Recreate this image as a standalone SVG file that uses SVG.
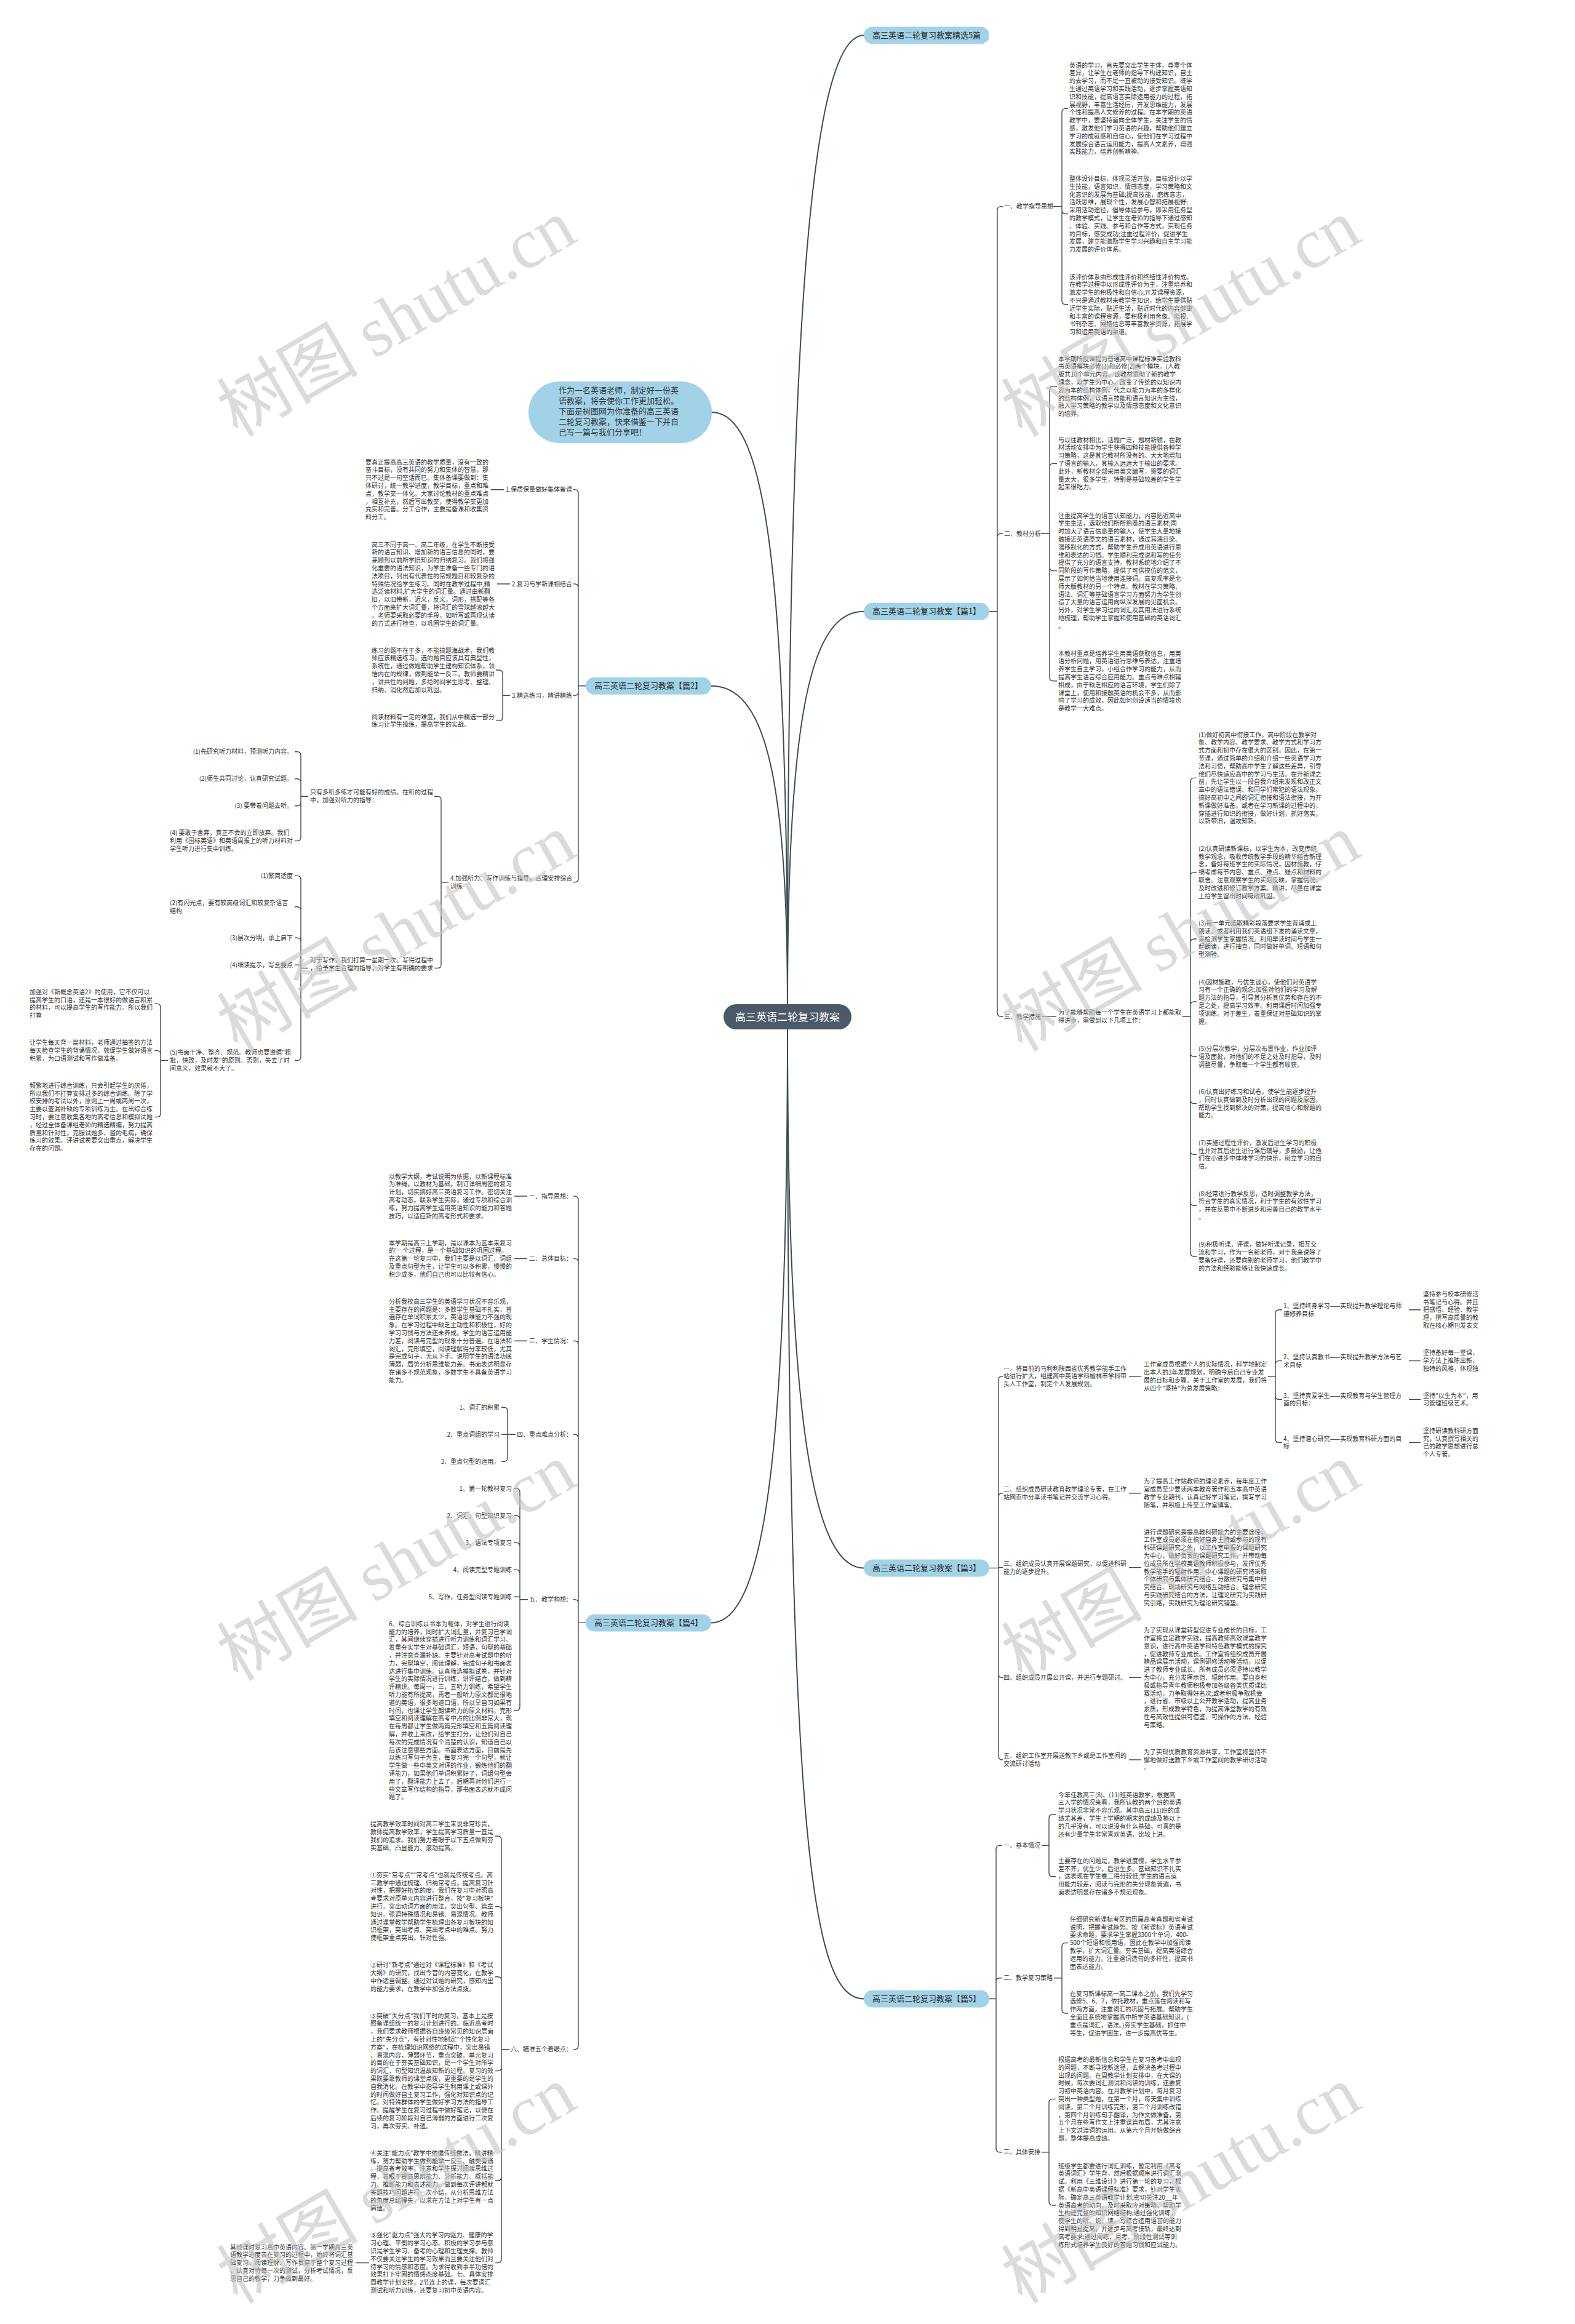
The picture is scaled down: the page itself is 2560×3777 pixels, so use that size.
<svg xmlns="http://www.w3.org/2000/svg" width="2560" height="3777" viewBox="0 0 2560 3777">
<style>
.t{font-family:"Noto Sans CJK SC","Liberation Sans",sans-serif;font-size:10px;fill:#333}
.e{text-anchor:end}
.c{fill:none;stroke:#3f4c57;stroke-width:1.4}
.tr{fill:none;stroke:#3f4c57;stroke-width:2}
.n1{fill:#a2d2e7}
.n1t{font-family:"Noto Sans CJK SC","Liberation Sans",sans-serif;font-size:13px;fill:#2b2b2b;text-anchor:middle}
.wm{font-family:"Noto Sans CJK SC","Liberation Serif",serif;font-size:115px;fill:#c4c4c4;opacity:.6;text-anchor:middle}
.wms{font-family:"Liberation Serif",serif}
</style>
<rect width="2560" height="3777" fill="#fff"/>
<g id="connectors">
<path class="tr" d="M1280 1632 C1280 500 1320 57.4 1404 57.4"/>
<path class="tr" d="M1280 1632 C1280 900 1240 670 1157 670"/>
<path class="tr" d="M1280 1632 C1280 1150 1320 993.8 1404 993.8"/>
<path class="tr" d="M1280 1632 C1280 1250 1240 1114.8 1156 1114.8"/>
<path class="tr" d="M1280 1673 C1280 2300 1320 2548.4 1404 2548.4"/>
<path class="tr" d="M1280 1673 C1280 2380 1240 2637.4 1156 2637.4"/>
<path class="tr" d="M1280 1673 C1280 3000 1320 3248.5 1404 3248.5"/>
<path class="c" d="M1608 993.8 H1621 M1621 993.8 V341.6 Q1621 335.6 1627 335.6 H1630 M1621 993.8 V873.3 Q1621 867.3 1627 867.3 H1630 M1621 993.8 V1646 Q1621 1652 1627 1652 H1630"/>
<path class="c" d="M1712 335.6 H1726 M1726 335.6 V182.4 Q1726 176.4 1732 176.4 H1736 M1726 335.6 V341.6 Q1726 347.6 1732 347.6 H1736 M1726 335.6 V488.8 Q1726 494.8 1732 494.8 H1736"/>
<path class="c" d="M1692 867.3 H1706 M1706 867.3 V633.8 Q1706 627.8 1712 627.8 H1718 M1706 867.3 V759.4 Q1706 753.4 1712 753.4 H1718 M1706 867.3 V921.6 Q1706 927.6 1712 927.6 H1718 M1706 867.3 V1100.8 Q1706 1106.8 1712 1106.8 H1718"/>
<path class="c" d="M1694 1652 H1717"/>
<path class="c" d="M1922 1652 H1935 M1935 1652 V1270.4 Q1935 1264.4 1941 1264.4 H1945 M1935 1652 V1423.6 Q1935 1417.6 1941 1417.6 H1945 M1935 1652 V1532 Q1935 1526 1941 1526 H1945 M1935 1652 V1634 Q1935 1628 1941 1628 H1945 M1935 1652 V1711.2 Q1935 1717.2 1941 1717.2 H1945 M1935 1652 V1787.6 Q1935 1793.6 1941 1793.6 H1945 M1935 1652 V1870.4 Q1935 1876.4 1941 1876.4 H1945 M1935 1652 V1953.2 Q1935 1959.2 1941 1959.2 H1945 M1935 1652 V2036 Q1935 2042 1941 2042 H1945"/>
<path class="c" d="M1608 2548.4 H1623 M1623 2548.4 V2242.8 Q1623 2236.8 1629 2236.8 H1630 M1623 2548.4 V2432.8 Q1623 2426.8 1629 2426.8 H1630 M1623 2547.6 H1630 M1623 2548.4 V2720.4 Q1623 2726.4 1629 2726.4 H1630 M1623 2548.4 V2854 Q1623 2860 1629 2860 H1630"/>
<path class="c" d="M1835 2236.8 H1855 M1835 2426.8 H1855 M1835 2547.6 H1855 M1835 2726.4 H1855 M1835 2860 H1855"/>
<path class="c" d="M2061 2236.8 H2073 M2073 2236.8 V2134.8 Q2073 2128.8 2079 2128.8 H2084 M2073 2236.8 V2217.6 Q2073 2211.6 2079 2211.6 H2084 M2073 2236.8 V2268.4 Q2073 2274.4 2079 2274.4 H2084 M2073 2236.8 V2338.4 Q2073 2344.4 2079 2344.4 H2084"/>
<path class="c" d="M2290 2128.8 H2309 M2290 2211.6 H2309 M2290 2274.4 H2309 M2290 2344.4 H2309"/>
<path class="c" d="M1608 3248.5 H1619 M1619 3248.5 V3005.4 Q1619 2999.4 1625 2999.4 H1629 M1619 3248.5 V3220.8 Q1619 3214.8 1625 3214.8 H1629 M1619 3248.5 V3491.7 Q1619 3497.7 1625 3497.7 H1629"/>
<path class="c" d="M1693 2999.4 H1705 M1705 2999.4 V2955 Q1705 2949 1711 2949 H1716 M1705 2999.4 V3043.8 Q1705 3049.8 1711 3049.8 H1716"/>
<path class="c" d="M1713 3214.8 H1726 M1726 3214.8 V3163.6 Q1726 3157.6 1732 3157.6 H1736 M1726 3214.8 V3266 Q1726 3272 1732 3272 H1736"/>
<path class="c" d="M1693 3497.7 H1705 M1705 3497.7 V3417.4 Q1705 3411.4 1711 3411.4 H1716 M1705 3497.7 V3578 Q1705 3584 1711 3584 H1716"/>
<path class="c" d="M952 1114.8 H940 M940 1114.8 V801.8 Q940 795.8 934 795.8 H932 M940 1114.8 V955 Q940 949 934 949 H932 M940 1114.8 V1124.2 Q940 1130.2 934 1130.2 H932 M940 1114.8 V1427.8 Q940 1433.8 934 1433.8 H932"/>
<path class="c" d="M819 795.8 H798 M829 949 H808"/>
<path class="c" d="M829 1130.2 H817 M817 1130.2 V1095 Q817 1089 811 1089 H806 M817 1130.2 V1165.4 Q817 1171.4 811 1171.4 H806"/>
<path class="c" d="M729 1433.8 H717 M717 1433.8 V1300.2 Q717 1294.2 711 1294.2 H706 M717 1433.8 V1567.4 Q717 1573.4 711 1573.4 H706"/>
<path class="c" d="M501 1294.2 H489 M489 1294.2 V1227.8 Q489 1221.8 483 1221.8 H479 M489 1294.2 V1271.8 Q489 1265.8 483 1265.8 H479 M489 1294.2 V1303.8 Q489 1309.8 483 1309.8 H479 M489 1294.2 V1360.6 Q489 1366.6 483 1366.6 H479"/>
<path class="c" d="M501 1573.4 H489 M489 1573.4 V1429.4 Q489 1423.4 483 1423.4 H479 M489 1573.4 V1479.8 Q489 1473.8 483 1473.8 H479 M489 1573.4 V1530.2 Q489 1524.2 483 1524.2 H479 M489 1573.4 V1568.2 H479 M489 1573.4 V1717.4 Q489 1723.4 483 1723.4 H479"/>
<path class="c" d="M273 1723.4 H261 M261 1723.4 V1637.4 Q261 1631.4 255 1631.4 H251 M261 1723.4 V1713.4 Q261 1707.4 255 1707.4 H251 M261 1723.4 V1809.4 Q261 1815.4 255 1815.4 H251"/>
<path class="c" d="M952 2637.4 H940 M940 2637.4 V1950 Q940 1944 934 1944 H932 M940 2637.4 V2051.6 Q940 2045.6 934 2045.6 H932 M940 2637.4 V2185.2 Q940 2179.2 934 2179.2 H932 M940 2637.4 V2337.2 Q940 2331.2 934 2331.2 H932 M940 2637.4 V2605.6 Q940 2599.6 934 2599.6 H932 M940 2637.4 V3324.8 Q940 3330.8 934 3330.8 H932"/>
<path class="c" d="M857 1944 H836 M857 2045.6 H836 M857 2179.2 H836"/>
<path class="c" d="M838 2331.2 H825 M825 2331.2 V2293.2 Q825 2287.2 819 2287.2 H815 M825 2331.2 H815 M825 2331.2 V2369.2 Q825 2375.2 819 2375.2 H815"/>
<path class="c" d="M858 2599.6 H845 M845 2599.6 V2425.2 Q845 2419.2 839 2419.2 H835 M845 2599.6 V2469.2 Q845 2463.2 839 2463.2 H835 M845 2599.6 V2513.2 Q845 2507.2 839 2507.2 H835 M845 2599.6 V2557.2 Q845 2551.2 839 2551.2 H835 M845 2599.6 V2595.2 H835 M845 2599.6 V2774 Q845 2780 839 2780 H835"/>
<path class="c" d="M828 3330.8 H815 M815 3330.8 V2990 Q815 2984 809 2984 H805 M815 3330.8 V3104.4 Q815 3098.4 809 3098.4 H805 M815 3330.8 V3218.8 Q815 3212.8 809 3212.8 H805 M815 3330.8 V3359.6 Q815 3365.6 809 3365.6 H805 M815 3330.8 V3538 Q815 3544 809 3544 H805 M815 3330.8 V3671.6 Q815 3677.6 809 3677.6 H805"/>
<path class="c" d="M600 3677.6 H578"/>
</g>

<g id="main"><rect x="1176" y="1632" width="208" height="41" rx="20.5" fill="#4a5a67"/><text x="1280" y="1658.5" text-anchor="middle" font-family="Noto Sans CJK SC, Liberation Sans, sans-serif" font-size="17" fill="#fff">高三英语二轮复习教案</text></g>

<g id="intro"><rect x="859" y="620" width="298" height="100" rx="50" class="n1"/>
<text font-family="Noto Sans CJK SC, Liberation Sans, sans-serif" font-size="13" fill="#333" x="908" y="638.5"><tspan x="908" dy="0">作为一名英语老师，制定好一份英</tspan><tspan x="908" dy="17.2">语教案，将会使你工作更加轻松。</tspan><tspan x="908" dy="17.2">下面是树图网为你准备的高三英语</tspan><tspan x="908" dy="17.2">二轮复习教案，快来借鉴一下并自</tspan><tspan x="908" dy="17.2">己写一篇与我们分享吧！</tspan></text></g>

<g id="top5"><rect x="1404" y="43.4" width="204" height="28" rx="14" class="n1"/><text class="n1t" x="1506" y="61.9">高三英语二轮复习教案精选5篇</text></g>

<g id="p1"><rect x="1404" y="979.8" width="204" height="28" rx="14" class="n1"/><text class="n1t" x="1506" y="998.3">高三英语二轮复习教案【篇1】</text></g>
<g id="p1-l1"><text class="t" x="1632" y="339.1">一、教学指导思想</text></g>
<g id="p1-l2"><text class="t" x="1632" y="870.8">二、教材分析</text></g>
<g id="p1-l3"><text class="t" x="1632" y="1655.5">三、教学措施</text></g>
<g id="p1-1a"><text class="t" x="1738" y="109.5"><tspan x="1738" dy="0">英语的学习，首先要突出学生主体，尊重个体</tspan><tspan x="1738" dy="12.8">差异，让学生在老师的指导下构建知识，自主</tspan><tspan x="1738" dy="12.8">的去学习，而不是一直被动的接受知识。既学</tspan><tspan x="1738" dy="12.8">生通过英语学习和实践活动，逐步掌握英语知</tspan><tspan x="1738" dy="12.8">识和技能，提高语言实际运用能力的过程，拓</tspan><tspan x="1738" dy="12.8">展视野，丰富生活经历，开发思维能力，发展</tspan><tspan x="1738" dy="12.8">个性和提高人文修养的过程。在本学期的英语</tspan><tspan x="1738" dy="12.8">教学中，要坚持面向全体学生，关注学生的情</tspan><tspan x="1738" dy="12.8">感，激发他们学习英语的兴趣，帮助他们建立</tspan><tspan x="1738" dy="12.8">学习的成就感和自信心，使他们在学习过程中</tspan><tspan x="1738" dy="12.8">发展综合语言运用能力，提高人文素养，增强</tspan><tspan x="1738" dy="12.8">实践能力，培养创新精神。</tspan></text></g>
<g id="p1-1b"><text class="t" x="1738" y="293.9"><tspan x="1738" dy="0">整体设计目标，体现灵活开放，目标设计以学</tspan><tspan x="1738" dy="12.8">生技能，语言知识，情感态度，学习策略和文</tspan><tspan x="1738" dy="12.8">化意识的发展为基础;提高技能，磨练意志，</tspan><tspan x="1738" dy="12.8">活跃思维，展现个性，发展心智和拓展视野;</tspan><tspan x="1738" dy="12.8">采用活动途径，倡导体验参与，即采用任务型</tspan><tspan x="1738" dy="12.8">的教学模式，让学生在老师的指导下通过感知</tspan><tspan x="1738" dy="12.8">、体验、实践、参与和合作等方式，实现任务</tspan><tspan x="1738" dy="12.8">的目标，感受成功;注重过程评价，促进学生</tspan><tspan x="1738" dy="12.8">发展，建立能激励学生学习兴趣和自主学习能</tspan><tspan x="1738" dy="12.8">力发展的评价体系。</tspan></text></g>
<g id="p1-1c"><text class="t" x="1738" y="453.5"><tspan x="1738" dy="0">该评价体系由形成性评价和终结性评价构成。</tspan><tspan x="1738" dy="12.8">在教学过程中以形成性评价为主，注重培养和</tspan><tspan x="1738" dy="12.8">激发学生的积极性和自信心;开发课程资源，</tspan><tspan x="1738" dy="12.8">不只是通过教材来教学生知识，给学生提供贴</tspan><tspan x="1738" dy="12.8">近学生实际，贴近生活，贴近时代的内容健康</tspan><tspan x="1738" dy="12.8">和丰富的课程资源，要积极利用音像、电视、</tspan><tspan x="1738" dy="12.8">书刊杂志、网络信息等丰富教学资源，拓展学</tspan><tspan x="1738" dy="12.8">习和运用英语的渠道。</tspan></text></g>
<g id="p1-2a"><text class="t" x="1720" y="586.5"><tspan x="1720" dy="0">本学期所授课程为普通高中课程标准实验教科</tspan><tspan x="1720" dy="12.8">书英语模块必修(1)和必修(2)两个模块。(人教</tspan><tspan x="1720" dy="12.8">版共10个单元内容。该教材贯彻了新的教学</tspan><tspan x="1720" dy="12.8">理念，以学生为中心，改变了传统的以知识内</tspan><tspan x="1720" dy="12.8">容为本的结构体例，代之以能力为本的多样化</tspan><tspan x="1720" dy="12.8">的结构体例，以语言技能和语言知识为主线，</tspan><tspan x="1720" dy="12.8">融入学习策略的教学以及情感态度和文化意识</tspan><tspan x="1720" dy="12.8">的培养。</tspan></text></g>
<g id="p1-2b"><text class="t" x="1720" y="718.5"><tspan x="1720" dy="0">与以往教材相比，话题广泛，题材新颖，在教</tspan><tspan x="1720" dy="12.8">材活动安排中为学生获得四种技能提供各种学</tspan><tspan x="1720" dy="12.8">习策略，这是其它教材所没有的。大大地增加</tspan><tspan x="1720" dy="12.8">了语言的输入，其输入远远大于输出的要求。</tspan><tspan x="1720" dy="12.8">此外，新教材全部采用英文编写，需要的词汇</tspan><tspan x="1720" dy="12.8">量太大，很多学生，特别是基础较差的学生学</tspan><tspan x="1720" dy="12.8">起来很吃力。</tspan></text></g>
<g id="p1-2c"><text class="t" x="1720" y="841.5"><tspan x="1720" dy="0">注重提高学生的语言认知能力，内容贴近高中</tspan><tspan x="1720" dy="12.8">学生生活，选取他们所所熟悉的语言素材;同</tspan><tspan x="1720" dy="12.8">时加大了语言信息量的输入，使学生大量地接</tspan><tspan x="1720" dy="12.8">触接近英语原文的语言素材，通过耳濡目染、</tspan><tspan x="1720" dy="12.8">潜移默化的方式，帮助学生养成用英语进行思</tspan><tspan x="1720" dy="12.8">维和表达的习惯。学生顺利完成说和写的任务</tspan><tspan x="1720" dy="12.8">提供了充分的语言支持。教材系统地介绍了不</tspan><tspan x="1720" dy="12.8">同阶段的写作策略，提供了可供模仿的范文，</tspan><tspan x="1720" dy="12.8">展示了如何恰当地使用连接词。高复现率是北</tspan><tspan x="1720" dy="12.8">师大版教材的另一个特点。教材在学习策略、</tspan><tspan x="1720" dy="12.8">语法、词汇等基础语言学习方面努力为学生创</tspan><tspan x="1720" dy="12.8">造了大量的语言运用向纵深发展的见面机会。</tspan><tspan x="1720" dy="12.8">另外，对学生学习过的词汇及其用法进行系统</tspan><tspan x="1720" dy="12.8">地梳理，帮助学生掌握和使用基础的英语词汇</tspan><tspan x="1720" dy="12.8">。</tspan></text></g>
<g id="p1-2d"><text class="t" x="1720" y="1065.5"><tspan x="1720" dy="0">本教材重点是培养学生用英语获取信息，用英</tspan><tspan x="1720" dy="12.8">语分析问题，用英语进行思维与表达，注重培</tspan><tspan x="1720" dy="12.8">养学生自主学习，小组合作学习的能力，从而</tspan><tspan x="1720" dy="12.8">提高学生语言综合应用能力。重点与难点相辅</tspan><tspan x="1720" dy="12.8">相成，由于缺乏相应的语言环境，学生们除了</tspan><tspan x="1720" dy="12.8">课堂上，使用和接触英语的机会不多，从而影</tspan><tspan x="1720" dy="12.8">响了学习的成效，因此如何创设适当的情境也</tspan><tspan x="1720" dy="12.8">是教学一大难点。</tspan></text></g>
<g id="p1-3"><text class="t" x="1720" y="1649.1"><tspan x="1720" dy="0">为了能够帮助每一个学生在英语学习上都能取</tspan><tspan x="1720" dy="12.8">得进步，需做到以下几项工作：</tspan></text></g>
<g id="p1-3-1"><text class="t" x="1948" y="1197.5"><tspan x="1948" dy="0">(1)做好初高中衔接工作。高中阶段在教学对</tspan><tspan x="1948" dy="12.8">象、教学内容、教学要求、教学方式和学习方</tspan><tspan x="1948" dy="12.8">式方面和初中存在很大的区别。因此，在第一</tspan><tspan x="1948" dy="12.8">节课，通过简单的介绍和介绍一些英语学习方</tspan><tspan x="1948" dy="12.8">法和习惯，帮助高中学生了解这些差异，引导</tspan><tspan x="1948" dy="12.8">他们尽快适应高中的学习与生活。在开新课之</tspan><tspan x="1948" dy="12.8">前，先让学生以一段自我介绍来发现和改正文</tspan><tspan x="1948" dy="12.8">章中的语法错误、和同学们常犯的语法现象。</tspan><tspan x="1948" dy="12.8">搞好高初中之间的词汇衔接和语法衔接，为开</tspan><tspan x="1948" dy="12.8">新课做好准备。或者在学习新课的过程中的，</tspan><tspan x="1948" dy="12.8">穿插进行知识的衔接，做好计划，抓好落实，</tspan><tspan x="1948" dy="12.8">以新带旧，温故知新。</tspan></text></g>
<g id="p1-3-2"><text class="t" x="1948" y="1382.7"><tspan x="1948" dy="0">(2)认真研读新课标，以学生为本，改变传统</tspan><tspan x="1948" dy="12.8">教学观念，吸收传统教学手段的精华结合新理</tspan><tspan x="1948" dy="12.8">念，备好每班学生的实际情况，因材施教，仔</tspan><tspan x="1948" dy="12.8">细考虑每节内容、重点、难点、疑点和材料的</tspan><tspan x="1948" dy="12.8">取舍。注意观察学生的实际反映，掌握情况，</tspan><tspan x="1948" dy="12.8">及时改进和修订教学方案。精讲，尽量在课堂</tspan><tspan x="1948" dy="12.8">上给学生留出时间吸收巩固。</tspan></text></g>
<g id="p1-3-3"><text class="t" x="1948" y="1503.9"><tspan x="1948" dy="0">(3)每一单元选取精彩段落要求学生背诵或上</tspan><tspan x="1948" dy="12.8">朗读。或者利用我们英语组下发的诵读文章，</tspan><tspan x="1948" dy="12.8">来检测学生掌握情况。利用早读时间与学生一</tspan><tspan x="1948" dy="12.8">起朗读，进行抽查，同时做好单词、短语和句</tspan><tspan x="1948" dy="12.8">型测验。</tspan></text></g>
<g id="p1-3-4"><text class="t" x="1948" y="1599.5"><tspan x="1948" dy="0">(4)因材施教，与优生谈心，使他们对英语学</tspan><tspan x="1948" dy="12.8">习有一个正确的观念;加强对他们的学习及解</tspan><tspan x="1948" dy="12.8">题方法的指导，引导其分析其优势和存在的不</tspan><tspan x="1948" dy="12.8">足之处，提高学习效率。利用课后时间加强专</tspan><tspan x="1948" dy="12.8">项训练。对于差生，着重保证对基础知识的掌</tspan><tspan x="1948" dy="12.8">握。</tspan></text></g>
<g id="p1-3-5"><text class="t" x="1948" y="1707.9"><tspan x="1948" dy="0">(5)分层次教学，分层次布置作业，作业加评</tspan><tspan x="1948" dy="12.8">语及面批，对他们的不足之处及时指导，及时</tspan><tspan x="1948" dy="12.8">调整尽量，争取每一个学生都有收获。</tspan></text></g>
<g id="p1-3-6"><text class="t" x="1948" y="1777.9"><tspan x="1948" dy="0">(6)认真出好练习和试卷，使学生能逐步提升</tspan><tspan x="1948" dy="12.8">，同时认真做到及时分析出现的问题及原因，</tspan><tspan x="1948" dy="12.8">帮助学生找到解决的对策，提高信心和解题的</tspan><tspan x="1948" dy="12.8">能力。</tspan></text></g>
<g id="p1-3-7"><text class="t" x="1948" y="1860.7"><tspan x="1948" dy="0">(7)实施过程性评价，激发后进生学习的积极</tspan><tspan x="1948" dy="12.8">性并对其后进生进行课后辅导，多鼓励，让他</tspan><tspan x="1948" dy="12.8">们在小进步中体味学习的快乐，树立学习的自</tspan><tspan x="1948" dy="12.8">信。</tspan></text></g>
<g id="p1-3-8"><text class="t" x="1948" y="1943.5"><tspan x="1948" dy="0">(8)经常进行教学反思，适时调整教学方法，</tspan><tspan x="1948" dy="12.8">符合学生的真实情况，利于学生的有效性学习</tspan><tspan x="1948" dy="12.8">，并在反思中不断进步和完善自己的教学水平</tspan><tspan x="1948" dy="12.8">。</tspan></text></g>
<g id="p1-3-9"><text class="t" x="1948" y="2026.3"><tspan x="1948" dy="0">(9)积极听课，评课，做好听课记录，相互交</tspan><tspan x="1948" dy="12.8">流和学习，作为一名新老师，对于我来说除了</tspan><tspan x="1948" dy="12.8">要备好课，还要向别的老师学习，他们教学中</tspan><tspan x="1948" dy="12.8">的方法和经验能够让我快速成长。</tspan></text></g>

<g id="p3"><rect x="1404" y="2534.4" width="204" height="28" rx="14" class="n1"/><text class="n1t" x="1506" y="2552.9">高三英语二轮复习教案【篇3】</text></g>
<g id="p3-l1"><text class="t" x="1631" y="2227.5"><tspan x="1631" dy="0">一、将目前的马利利陕西省优秀教学能手工作</tspan><tspan x="1631" dy="12.8">站进行扩大，组建高中英语学科榆林市学科带</tspan><tspan x="1631" dy="12.8">头人工作室，制定个人发展规划。</tspan></text></g>
<g id="p3-l2"><text class="t" x="1631" y="2423.9"><tspan x="1631" dy="0">二、组织成员研读教育教学理论专著，在工作</tspan><tspan x="1631" dy="12.8">站网页中分享读书笔记并交流学习心得。</tspan></text></g>
<g id="p3-l3"><text class="t" x="1631" y="2544.7"><tspan x="1631" dy="0">三、组织成员认真开展课题研究，以促进科研</tspan><tspan x="1631" dy="12.8">能力的逐步提升。</tspan></text></g>
<g id="p3-l4"><text class="t" x="1631" y="2729.9">四、组织成员开展公开课，并进行专题研讨。</text></g>
<g id="p3-l5"><text class="t" x="1631" y="2857.1"><tspan x="1631" dy="0">五、组织工作室开展送教下乡或是工作室间的</tspan><tspan x="1631" dy="12.8">交流研讨活动</tspan></text></g>
<g id="p3-1"><text class="t" x="1859" y="2221.1"><tspan x="1859" dy="0">工作室成员根据个人的实际情况，科学地制定</tspan><tspan x="1859" dy="12.8">出本人的3年发展规划，明确今后自己专业发</tspan><tspan x="1859" dy="12.8">展的目标和步骤。关于工作室的发展，我们将</tspan><tspan x="1859" dy="12.8">从四个"坚持"为总发展策略：</tspan></text></g>
<g id="p3-2"><text class="t" x="1859" y="2411.1"><tspan x="1859" dy="0">为了提高工作站教师的理论素养，每年度工作</tspan><tspan x="1859" dy="12.8">室成员至少要读两本教育著作和五本高中英语</tspan><tspan x="1859" dy="12.8">教学专业期刊，认真记好学习笔记，撰写学习</tspan><tspan x="1859" dy="12.8">随笔，并积极上传至工作室博客。</tspan></text></g>
<g id="p3-3"><text class="t" x="1859" y="2493.5"><tspan x="1859" dy="0">进行课题研究是提高教科研能力的主要途径，</tspan><tspan x="1859" dy="12.8">工作室成员必须在搞好自身主持或参与的现有</tspan><tspan x="1859" dy="12.8">科研课题研究之外，以工作室申报的课题研究</tspan><tspan x="1859" dy="12.8">为中心，做好负责的课题研究工作，并带动每</tspan><tspan x="1859" dy="12.8">位成员所在学校英语教师积极参与，发挥优秀</tspan><tspan x="1859" dy="12.8">教学能手的辐射作用。中心课题的研究将采取</tspan><tspan x="1859" dy="12.8">个体研究与集体研究结合、分散研究与集中研</tspan><tspan x="1859" dy="12.8">究结合、现场研究与网络互动结合、理念研究</tspan><tspan x="1859" dy="12.8">与实践研究结合的方法，让理论研究为实践研</tspan><tspan x="1859" dy="12.8">究引路，实践研究为理论研究铺垫。</tspan></text></g>
<g id="p3-4"><text class="t" x="1859" y="2653.1"><tspan x="1859" dy="0">为了实现从课堂转型促进专业成长的目标，工</tspan><tspan x="1859" dy="12.8">作室将立足教学实践，提高教师高效课堂教学</tspan><tspan x="1859" dy="12.8">意识，进行高中英语学科特色教学模式的探究</tspan><tspan x="1859" dy="12.8">，促进教师专业成长。工作室将组织成员开展</tspan><tspan x="1859" dy="12.8">精品课展示活动，课例研修活动等活动，以促</tspan><tspan x="1859" dy="12.8">进了教师专业成长。所有成员必须坚持以教学</tspan><tspan x="1859" dy="12.8">为中心，充分发挥示范、辐射作用。要自身积</tspan><tspan x="1859" dy="12.8">极或指导青年教师积极参加各级各类优质课比</tspan><tspan x="1859" dy="12.8">赛活动，力争取得好名次;或者积极争取机会</tspan><tspan x="1859" dy="12.8">，进行省、市级以上公开教学活动，提高业务</tspan><tspan x="1859" dy="12.8">素质，形成教学特色，为提高课堂教学的有效</tspan><tspan x="1859" dy="12.8">性与高效性提供可借鉴、可操作的方法、经验</tspan><tspan x="1859" dy="12.8">与策略。</tspan></text></g>
<g id="p3-5"><text class="t" x="1859" y="2850.7"><tspan x="1859" dy="0">为了实现优质教育资源共享，工作室将坚持不</tspan><tspan x="1859" dy="12.8">懈地做好送教下乡或工作室间的教学研讨活动</tspan><tspan x="1859" dy="12.8">。</tspan></text></g>
<g id="p3-1-l1"><text class="t" x="2086" y="2125.9"><tspan x="2086" dy="0">1、坚持终身学习——实现提升教学理论与师</tspan><tspan x="2086" dy="12.8">德修养目标</tspan></text></g>
<g id="p3-1-l2"><text class="t" x="2086" y="2208.7"><tspan x="2086" dy="0">2、坚持认真教书——实现提升教学方法与艺</tspan><tspan x="2086" dy="12.8">术目标</tspan></text></g>
<g id="p3-1-l3"><text class="t" x="2086" y="2271.5"><tspan x="2086" dy="0">3、坚持真爱学生——实现教育与学生管理方</tspan><tspan x="2086" dy="12.8">面的目标：</tspan></text></g>
<g id="p3-1-l4"><text class="t" x="2086" y="2341.5"><tspan x="2086" dy="0">4、坚持潜心研究——实现教育科研方面的目</tspan><tspan x="2086" dy="12.8">标</tspan></text></g>
<g id="p3-1-1"><text class="t" x="2313" y="2106.7"><tspan x="2313" dy="0">坚持参与校本研修活</tspan><tspan x="2313" dy="12.8">书笔记与心得。并且</tspan><tspan x="2313" dy="12.8">把感悟、经验、教学</tspan><tspan x="2313" dy="12.8">理，撰写高质量的教</tspan><tspan x="2313" dy="12.8">取在核心期刊发表文</tspan></text></g>
<g id="p3-1-2"><text class="t" x="2313" y="2202.3"><tspan x="2313" dy="0">坚持备好每一堂课，</tspan><tspan x="2313" dy="12.8">学方法上推陈出新，</tspan><tspan x="2313" dy="12.8">独特的风格，体现独</tspan></text></g>
<g id="p3-1-3"><text class="t" x="2313" y="2271.5"><tspan x="2313" dy="0">坚持"以生为本"，用</tspan><tspan x="2313" dy="12.8">习管理班级艺术。</tspan></text></g>
<g id="p3-1-4"><text class="t" x="2313" y="2328.7"><tspan x="2313" dy="0">坚持研读教科研方面</tspan><tspan x="2313" dy="12.8">究，认真撰写相关的</tspan><tspan x="2313" dy="12.8">己的教学思想进行总</tspan><tspan x="2313" dy="12.8">个人专著。</tspan></text></g>

<g id="p5"><rect x="1404" y="3234.5" width="204" height="28" rx="14" class="n1"/><text class="n1t" x="1506" y="3253">高三英语二轮复习教案【篇5】</text></g>
<g id="p5-l1"><text class="t" x="1631" y="3002.9">一、基本情况</text></g>
<g id="p5-l2"><text class="t" x="1631" y="3218.3">二、教学复习策略</text></g>
<g id="p5-l3"><text class="t" x="1631" y="3501.2">三、具体安排</text></g>
<g id="p5-a"><text class="t" x="1720" y="2920.5"><tspan x="1720" dy="0">今年任教高三(8)、(11)班英语教学，根据高</tspan><tspan x="1720" dy="12.8">三入学的情况来看，我所认教的两个班的英语</tspan><tspan x="1720" dy="12.8">学习状况非常不容乐观。其中高三(11)班的成</tspan><tspan x="1720" dy="12.8">绩尤其差，学生上学期的期末的成绩及格以上</tspan><tspan x="1720" dy="12.8">的几乎没有，可以说没有什么基础，可喜的是</tspan><tspan x="1720" dy="12.8">还有少量学生非常喜欢英语，比较上进。</tspan></text></g>
<g id="p5-b"><text class="t" x="1720" y="3027.7"><tspan x="1720" dy="0">主要存在的问题是，教学进度慢，学生水平参</tspan><tspan x="1720" dy="12.8">差不齐，优生少，后进生多。基础知识不扎实</tspan><tspan x="1720" dy="12.8">，这表现在学生卷二得分较低;学生的语言运</tspan><tspan x="1720" dy="12.8">用能力较差，阅读与完形的失分现象普遍，书</tspan><tspan x="1720" dy="12.8">面表达明显存在诸多不规范现象。</tspan></text></g>
<g id="p5-c"><text class="t" x="1739" y="3122.7"><tspan x="1739" dy="0">仔细研究新课标考区的历届高考真题和省考试</tspan><tspan x="1739" dy="12.8">说明，把握考试趋势。按《新课标》英语考试</tspan><tspan x="1739" dy="12.8">要求命题，要求学生掌握3300个单词，400-</tspan><tspan x="1739" dy="12.8">500个短语和惯用语，因此在教学中加强阅读</tspan><tspan x="1739" dy="12.8">教学，扩大词汇量。夯实基础，提高英语综合</tspan><tspan x="1739" dy="12.8">运用的能力。注重遣词造句的多样性，提高书</tspan><tspan x="1739" dy="12.8">面表达能力。</tspan></text></g>
<g id="p5-d"><text class="t" x="1739" y="3243.5"><tspan x="1739" dy="0">在复习新课标高一高二课本之前，我们先学习</tspan><tspan x="1739" dy="12.8">选修5、6、7，依托教材，重点落在阅读和写</tspan><tspan x="1739" dy="12.8">作两方面，注重词汇的巩固与拓展。帮助学生</tspan><tspan x="1739" dy="12.8">全面且系统地掌握高中所学英语基础知识，(</tspan><tspan x="1739" dy="12.8">重点是词汇，语法。)夯实学生基础，抓住中</tspan><tspan x="1739" dy="12.8">等生，促进学困生，进一步提高优等生。</tspan></text></g>
<g id="p5-e"><text class="t" x="1720" y="3350.9"><tspan x="1720" dy="0">根据高考的最新信息和学生在复习备考中出现</tspan><tspan x="1720" dy="12.8">的问题，不断寻找新途径，去解决备考过程中</tspan><tspan x="1720" dy="12.8">出现的问题。在周教学计划安排中，在大课的</tspan><tspan x="1720" dy="12.8">时候，每次要词汇测试和阅读的训练，还要复</tspan><tspan x="1720" dy="12.8">习初中英语内容。在月教学计划中，每月复习</tspan><tspan x="1720" dy="12.8">突出一种类型题，在第一个月，每天集中训练</tspan><tspan x="1720" dy="12.8">阅读，第二个月训练完形，第三个月训练改错</tspan><tspan x="1720" dy="12.8">，第四个月训练句子翻译，为作文做准备，第</tspan><tspan x="1720" dy="12.8">五个月在些写作文上注重谋篇布局，尤其注意</tspan><tspan x="1720" dy="12.8">上下文过渡词的运用。从第六个月开始做综合</tspan><tspan x="1720" dy="12.8">题，整体提高成绩。</tspan></text></g>
<g id="p5-f"><text class="t" x="1720" y="3523.5"><tspan x="1720" dy="0">班级学生都要进行词汇训练，暂定利用《高考</tspan><tspan x="1720" dy="12.8">英语词汇》学生背，然后根据顺序进行词汇测</tspan><tspan x="1720" dy="12.8">试。利用《三维设计》进行第一轮的复习，根</tspan><tspan x="1720" dy="12.8">据《新高中英语课程标准》要求，针对学生实</tspan><tspan x="1720" dy="12.8">际，确定高三英语教学计划;密切关注20__年</tspan><tspan x="1720" dy="12.8">英语高考的动向，及时采取应对策略，帮助学</tspan><tspan x="1720" dy="12.8">生构建完整的知识网络结构;通过强化训练，</tspan><tspan x="1720" dy="12.8">使学生的听、说、读、写综合运用语言的能力</tspan><tspan x="1720" dy="12.8">得到明显提高，并逐步与高考接轨，最终达到</tspan><tspan x="1720" dy="12.8">高考要求;通过周练、月考、阶段性测试等训</tspan><tspan x="1720" dy="12.8">练形式培养学生良好的答题习惯和应试能力。</tspan></text></g>

<g id="p2"><rect x="952" y="1100.8" width="204" height="28" rx="14" class="n1"/><text class="n1t" x="1054" y="1119.3">高三英语二轮复习教案【篇2】</text></g>
<g id="p2-l1"><text class="t e" x="930" y="799.3">1.保质保量做好集体备课</text></g>
<g id="p2-l2"><text class="t e" x="930" y="952.5">2.复习与学新课相结合</text></g>
<g id="p2-l3"><text class="t e" x="930" y="1133.7">3.精选练习，精讲精练</text></g>
<g id="p2-l4"><text class="t" x="732" y="1430.9"><tspan x="732" dy="0">4.加强听力、写作训练与指导，合理安排综合</tspan><tspan x="732" dy="12.8">训练</tspan></text></g>
<g id="p2-1"><text class="t" x="594" y="754.5"><tspan x="594" dy="0">要真正提高高三英语的教学质量，没有一致的</tspan><tspan x="594" dy="12.8">奋斗目标，没有共同的努力和集体的智慧，那</tspan><tspan x="594" dy="12.8">只不过是一句空话而已。集体备课要做到：集</tspan><tspan x="594" dy="12.8">体研讨，统一教学进度，教学目标，重点和难</tspan><tspan x="594" dy="12.8">点，教学案一体化。大家讨论教材的重点难点</tspan><tspan x="594" dy="12.8">，相互补充，然后写出教案，使得教学案更加</tspan><tspan x="594" dy="12.8">充实和完善。分工合作，主要是备课和收集资</tspan><tspan x="594" dy="12.8">料分工。</tspan></text></g>
<g id="p2-2"><text class="t" x="604" y="888.5"><tspan x="604" dy="0">高三不同于高一、高二年级，在学生不断接受</tspan><tspan x="604" dy="12.8">新的语言知识、增加新的语言信息的同时，要</tspan><tspan x="604" dy="12.8">兼顾到以前所学旧知识的归纳复习。我们将强</tspan><tspan x="604" dy="12.8">化重要的语法知识，为学生准备一些专门的语</tspan><tspan x="604" dy="12.8">法项目，列出有代表性的常规题目和较复杂的</tspan><tspan x="604" dy="12.8">特殊情况给学生练习。同时在教学过程中,精</tspan><tspan x="604" dy="12.8">选泛读材料,扩大学生的词汇量。通过由新翻</tspan><tspan x="604" dy="12.8">旧，以旧带新，近义，反义，词形，搭配等各</tspan><tspan x="604" dy="12.8">个方面来扩大词汇量，将词汇的雪球越滚越大</tspan><tspan x="604" dy="12.8">。老师要采取必要的手段，如听写或再现认读</tspan><tspan x="604" dy="12.8">的方式进行检查，以巩固学生的词汇量。</tspan></text></g>
<g id="p2-3a"><text class="t" x="604" y="1060.5"><tspan x="604" dy="0">练习的题不在于多，不能搞题海战术，我们教</tspan><tspan x="604" dy="12.8">师应该精选练习。选的题目应该具有典型性，</tspan><tspan x="604" dy="12.8">系统性，通过做题帮助学生建构知识体系，领</tspan><tspan x="604" dy="12.8">悟内在的规律，做到能举一反三。教师要精讲</tspan><tspan x="604" dy="12.8">，讲共性的问题，多给时间学生思考、整理、</tspan><tspan x="604" dy="12.8">归纳、消化然后加以巩固。</tspan></text></g>
<g id="p2-3b"><text class="t" x="604" y="1168.5"><tspan x="604" dy="0">阅读材料有一定的难度，我们从中精选一部分</tspan><tspan x="604" dy="12.8">练习让学生操练，提高学生的实战。</tspan></text></g>
<g id="p2-4a"><text class="t" x="504" y="1291.3"><tspan x="504" dy="0">只有多听多练才可能有好的成绩。在听的过程</tspan><tspan x="504" dy="12.8">中，加强对听力的指导：</tspan></text></g>
<g id="p2-4a1"><text class="t e" x="476" y="1225.3">(1)先研究听力材料，预测听力内容。</text></g>
<g id="p2-4a2"><text class="t e" x="476" y="1269.3">(2)师生共同讨论，认真研究试题。</text></g>
<g id="p2-4a3"><text class="t e" x="476" y="1313.3">(3) 要带着问题去听。</text></g>
<g id="p2-4a4"><text class="t" x="276" y="1357.3"><tspan x="276" dy="0">(4) 要敢于舍弃，真正不会的立即放弃。我们</tspan><tspan x="276" dy="12.8">利用《国标英语》和英语周报上的听力材料对</tspan><tspan x="276" dy="12.8">学生听力进行集中训练。</tspan></text></g>
<g id="p2-4b"><text class="t" x="504" y="1564.1"><tspan x="504" dy="0">对于写作，我们打算一星期一次。写得过程中</tspan><tspan x="504" dy="12.8">，给予学生合理的指导，对学生有明确的要求</tspan><tspan x="504" dy="12.8">：</tspan></text></g>
<g id="p2-4b1"><text class="t e" x="476" y="1426.9">(1)繁简适度</text></g>
<g id="p2-4b2"><text class="t" x="276" y="1470.9"><tspan x="276" dy="0">(2)有闪光点，要有较高级词汇和较复杂语言</tspan><tspan x="276" dy="12.8">结构</tspan></text></g>
<g id="p2-4b3"><text class="t e" x="476" y="1527.7">(3)层次分明，承上启下</text></g>
<g id="p2-4b4"><text class="t e" x="476" y="1571.7">(4)细读提示，写全要点</text></g>
<g id="p2-4b5"><text class="t" x="276" y="1714.1"><tspan x="276" dy="0">(5)书面干净、整齐、规范。教师也要遵循"粗</tspan><tspan x="276" dy="12.8">批，快改，及时发"的原则。否则，失去了时</tspan><tspan x="276" dy="12.8">间意义，效果就不大了。</tspan></text></g>
<g id="p2-4b5a"><text class="t" x="48" y="1615.7"><tspan x="48" dy="0">加强对《新概念英语2》的使用，它不仅可以</tspan><tspan x="48" dy="12.8">提高学生的口语，还是一本很好的做语言积累</tspan><tspan x="48" dy="12.8">的材料，可以提高学生的写作能力。所以我们</tspan><tspan x="48" dy="12.8">打算</tspan></text></g>
<g id="p2-4b5b"><text class="t" x="48" y="1698.1"><tspan x="48" dy="0">让学生每天背一篇材料，老师通过抽签的方法</tspan><tspan x="48" dy="12.8">每天检查学生的背诵情况，敦促学生做好语言</tspan><tspan x="48" dy="12.8">积累，为口语测试和写作做准备。</tspan></text></g>
<g id="p2-4b5c"><text class="t" x="48" y="1767.7"><tspan x="48" dy="0">频繁地进行综合训练，只会引起学生的厌倦，</tspan><tspan x="48" dy="12.8">所以我们不打算安排过多的综合训练。除了学</tspan><tspan x="48" dy="12.8">校安排的考试以外，原则上一周或两周一次，</tspan><tspan x="48" dy="12.8">主要以查漏补缺的专项训练为主。在出综合练</tspan><tspan x="48" dy="12.8">习时，要注意收集各地的高考信息和模拟试题</tspan><tspan x="48" dy="12.8">，经过全体备课组老师的精选精编，努力提高</tspan><tspan x="48" dy="12.8">质量和针对性，克服试题多、滥的毛病，确保</tspan><tspan x="48" dy="12.8">练习的效果。评讲试卷要突出重点，解决学生</tspan><tspan x="48" dy="12.8">存在的问题。</tspan></text></g>

<g id="p4"><rect x="952" y="2623.4" width="204" height="28" rx="14" class="n1"/><text class="n1t" x="1054" y="2641.9">高三英语二轮复习教案【篇4】</text></g>
<g id="p4-l1"><text class="t e" x="930" y="1947.5">一、指导思想：</text></g>
<g id="p4-l2"><text class="t e" x="930" y="2049.1">二、总体目标：</text></g>
<g id="p4-l3"><text class="t e" x="930" y="2182.7">三、学生情况：</text></g>
<g id="p4-l4"><text class="t e" x="930" y="2334.7">四、重点难点分析：</text></g>
<g id="p4-l5"><text class="t e" x="930" y="2603.1">五、教学构想：</text></g>
<g id="p4-l6"><text class="t e" x="930" y="3334.3">六、瞄准五个着眼点：</text></g>
<g id="p4-1"><text class="t" x="632" y="1915.5"><tspan x="632" dy="0">以教学大纲，考试说明为依据，以新课程标准</tspan><tspan x="632" dy="12.8">为准绳，以教材为基础，制订详细周密的复习</tspan><tspan x="632" dy="12.8">计划，切实搞好高三英语复习工作。密切关注</tspan><tspan x="632" dy="12.8">高考动态，联系学生实际，通过专项和综合训</tspan><tspan x="632" dy="12.8">练，努力提高学生运用英语知识的能力和答题</tspan><tspan x="632" dy="12.8">技巧，以适应新的高考形式和要求。</tspan></text></g>
<g id="p4-2"><text class="t" x="632" y="2023.5"><tspan x="632" dy="0">本学期是高三上学期，是以课本为蓝本来复习</tspan><tspan x="632" dy="12.8">的'一个过程，是一个基础知识的巩固过程。</tspan><tspan x="632" dy="12.8">在这第一轮复习中，我们主要是以词汇、词组</tspan><tspan x="632" dy="12.8">及重点句型为主，让学生可以多积累，慢慢的</tspan><tspan x="632" dy="12.8">积少成多，他们自己也可以比较有信心。</tspan></text></g>
<g id="p4-3"><text class="t" x="632" y="2118.7"><tspan x="632" dy="0">分析我校高三学生的英语学习状况不容乐观，</tspan><tspan x="632" dy="12.8">主要存在的问题是：多数学生基础不扎实，普</tspan><tspan x="632" dy="12.8">遍存在单词积累太少，英语思维能力不强的现</tspan><tspan x="632" dy="12.8">象。在学习过程中缺乏主动性和积极性，好的</tspan><tspan x="632" dy="12.8">学习习惯与方法还未养成。学生的语言运用能</tspan><tspan x="632" dy="12.8">力差，阅读与完型的现象十分普遍。在语法和</tspan><tspan x="632" dy="12.8">词汇，完形填空，阅读理解得分率较低，尤其</tspan><tspan x="632" dy="12.8">是完成句子，无从下手。说明学生的语法功底</tspan><tspan x="632" dy="12.8">薄弱，局势分析思维能力差。书面表达明显存</tspan><tspan x="632" dy="12.8">在诸多不规范现象，多数学生不具备英语学习</tspan><tspan x="632" dy="12.8">能力。</tspan></text></g>
<g id="p4-4"><text class="t e" x="812" y="2290.7">1、词汇的积累</text><text class="t e" x="812" y="2334.7">2、重点词组的学习</text><text class="t e" x="812" y="2378.7">3、重点句型的运用。</text></g>
<g id="p4-5"><text class="t e" x="832" y="2422.7">1、第一轮教材复习</text><text class="t e" x="832" y="2466.7">2、词汇、句型知识复习</text><text class="t e" x="832" y="2510.7">3、语法专项复习</text><text class="t e" x="832" y="2554.7">4、阅读完型专题训练</text><text class="t e" x="832" y="2598.7">5、写作，任务型阅读专题训练</text></g>
<g id="p4-5-6"><text class="t" x="632" y="2642.7"><tspan x="632" dy="0">6、综合训练以书本为载体，对学生进行阅读</tspan><tspan x="632" dy="12.8">能力的培养，同时扩大词汇量，并复习已学词</tspan><tspan x="632" dy="12.8">汇，其间继续穿插进行听力训练和词汇学习。</tspan><tspan x="632" dy="12.8">着重夯实学生对基础词汇，短语，句型的基础</tspan><tspan x="632" dy="12.8">，并注意查漏补缺。主要针对高考试题中的听</tspan><tspan x="632" dy="12.8">力，完型填空，阅读理解，完成句子和书面表</tspan><tspan x="632" dy="12.8">达进行集中训练。认真筛选模拟试卷，并针对</tspan><tspan x="632" dy="12.8">学生的实际情况进行训练，讲评结合，做到精</tspan><tspan x="632" dy="12.8">评精讲。每周一，三，五听力训练，希望学生</tspan><tspan x="632" dy="12.8">听力能有所提高，再者一般听力原文都是很地</tspan><tspan x="632" dy="12.8">道的英语，很多地道口语，所以早自习如果有</tspan><tspan x="632" dy="12.8">时间，也课让学生朗读听力的原文材料。完形</tspan><tspan x="632" dy="12.8">填空和阅读理解在高考中占的比例非常大，现</tspan><tspan x="632" dy="12.8">在每周都让学生做两篇完形填空和五篇阅读理</tspan><tspan x="632" dy="12.8">解，并收上来改，给学生打分，让他们对自己</tspan><tspan x="632" dy="12.8">每次的完成情况有个清楚的认识，知道自己以</tspan><tspan x="632" dy="12.8">后该注意哪些方面。书面表达方面，目前是先</tspan><tspan x="632" dy="12.8">以练习写句子为主，每复习完一个句型，就让</tspan><tspan x="632" dy="12.8">学生做一些中英文对译的作业，锻炼他们的翻</tspan><tspan x="632" dy="12.8">译能力，如果他们单词积累好了，词组句型会</tspan><tspan x="632" dy="12.8">用了，翻译能力上去了，后期再对他们进行一</tspan><tspan x="632" dy="12.8">些文章写作结构的指导，那书面表达就不成问</tspan><tspan x="632" dy="12.8">题了。</tspan></text></g>
<g id="p4-6-0"><text class="t" x="602" y="2968.3"><tspan x="602" dy="0">提高教学效率时间对高三学生来说非常珍贵，</tspan><tspan x="602" dy="12.8">教师提高教学效率，学生提高学习质量一直是</tspan><tspan x="602" dy="12.8">我们的追求。我们努力着眼于以下五点做到夯</tspan><tspan x="602" dy="12.8">实基础、凸显能力、滚动提高。</tspan></text></g>
<g id="p4-6-1"><text class="t" x="602" y="3050.7"><tspan x="602" dy="0">①夯实"常考点""常考点"也就是传统考点。高</tspan><tspan x="602" dy="12.8">三教学中通过梳理、归纳常考点，提高复习针</tspan><tspan x="602" dy="12.8">对性，把握好拓宽的度。我们在复习中对照高</tspan><tspan x="602" dy="12.8">考要求对原单元内容进行整合，按"复习板块"</tspan><tspan x="602" dy="12.8">进行。突出动词方面的用法，突出句型、篇章</tspan><tspan x="602" dy="12.8">知识。强调特殊情况和易错、易混情况。教师</tspan><tspan x="602" dy="12.8">通过课堂教学帮助学生梳理出各复习板块的知</tspan><tspan x="602" dy="12.8">识框架，突出考点、突出考点中的难点。努力</tspan><tspan x="602" dy="12.8">使框架重点突出，针对性强。</tspan></text></g>
<g id="p4-6-2"><text class="t" x="602" y="3197.1"><tspan x="602" dy="0">②研讨"新考点"通过对《课程标准》和《考试</tspan><tspan x="602" dy="12.8">大纲》的研究，找出今昔的内容变化，在教学</tspan><tspan x="602" dy="12.8">中作适当调整。通过对试题的研究，感知内里</tspan><tspan x="602" dy="12.8">的能力要求，在教学中加强方法点拨。</tspan></text></g>
<g id="p4-6-3"><text class="t" x="602" y="3279.5"><tspan x="602" dy="0">③突破"失分点"我们平时的复习，基本上是按</tspan><tspan x="602" dy="12.8">照备课组统一的复习计划进行的。临近高考时</tspan><tspan x="602" dy="12.8">，我们要求教师根据各自班级常见的知识层面</tspan><tspan x="602" dy="12.8">上的"失分点"，有针对性地制定"个性化复习</tspan><tspan x="602" dy="12.8">方案"，在梳理知识网络的过程中，突出易错</tspan><tspan x="602" dy="12.8">、易混内容，薄弱环节，重点突破。单元复习</tspan><tspan x="602" dy="12.8">的目的在于夯实基础知识，是一个学生对所学</tspan><tspan x="602" dy="12.8">的词汇、句型知识温故知新的过程。复习的效</tspan><tspan x="602" dy="12.8">果既要靠教师的课堂点拨，更重要的是学生的</tspan><tspan x="602" dy="12.8">自我消化。在教学中指导学生利用课上或课外</tspan><tspan x="602" dy="12.8">的时间做好自主复习工作，强化对知识点的记</tspan><tspan x="602" dy="12.8">忆。对特殊群体的学生做好学习方法的指导工</tspan><tspan x="602" dy="12.8">作。提醒学生在复习过程中做好笔记，以便在</tspan><tspan x="602" dy="12.8">后续的复习阶段对自己薄弱的方面进行二次复</tspan><tspan x="602" dy="12.8">习，再次夯实、补遗。</tspan></text></g>
<g id="p4-6-4"><text class="t" x="602" y="3502.7"><tspan x="602" dy="0">④关注"能力点"教学中依循传统做法，精讲精</tspan><tspan x="602" dy="12.8">练，努力帮助学生做到能举一反三、触类旁通</tspan><tspan x="602" dy="12.8">，提高备考效率。注意和学生探讨阅读思维过</tspan><tspan x="602" dy="12.8">程，着眼于提高思辨能力、分析能力、概括能</tspan><tspan x="602" dy="12.8">力、推断能力和表述能力。做到每次评讲都就</tspan><tspan x="602" dy="12.8">答题技巧问题进行一次小结，从分析思维方法</tspan><tspan x="602" dy="12.8">的角度总结得失，以求在方法上对学生有一点</tspan><tspan x="602" dy="12.8">启迪。</tspan></text></g>
<g id="p4-6-5"><text class="t" x="602" y="3636.3"><tspan x="602" dy="0">⑤强化"驱力点"强大的学习内驱力、健康的学</tspan><tspan x="602" dy="12.8">习心理、平衡的学习心态、积极的学习参与意</tspan><tspan x="602" dy="12.8">识是学生学习、备考的心理和生理支撑。教师</tspan><tspan x="602" dy="12.8">不仅要关注学生的学习效果而且要关注他们对</tspan><tspan x="602" dy="12.8">待学习的情感和态度。为求得收到事半功倍的</tspan><tspan x="602" dy="12.8">效果打下牢固的情感态度基础。七、具体安排</tspan><tspan x="602" dy="12.8">周教学计划安排，2节连上的课，每次要词汇</tspan><tspan x="602" dy="12.8">测试和听力训练，还要复习初中英语内容。</tspan></text></g>
<g id="p4-6-5-1"><text class="t" x="374" y="3655.5"><tspan x="374" dy="0">其他课时复习高中英语内容。第一学期高三英</tspan><tspan x="374" dy="12.8">语教学进度表在复习的过程中，始终将词汇基</tspan><tspan x="374" dy="12.8">础复习、阅读理解、写作贯穿于整个复习过程</tspan><tspan x="374" dy="12.8">，认真对待每一次的测试，分析考试情况，反</tspan><tspan x="374" dy="12.8">思自己的教学，力争做到最好。</tspan></text></g>

<g id="watermarks">
<text class="wm" transform="rotate(-30 645 518)" x="645" y="556">树图 <tspan class="wms">shutu.cn</tspan></text>
<text class="wm" transform="rotate(-30 1920 518)" x="1920" y="556">树图 <tspan class="wms">shutu.cn</tspan></text>
<text class="wm" transform="rotate(-30 645 1517)" x="645" y="1555">树图 <tspan class="wms">shutu.cn</tspan></text>
<text class="wm" transform="rotate(-30 1920 1517)" x="1920" y="1555">树图 <tspan class="wms">shutu.cn</tspan></text>
<text class="wm" transform="rotate(-30 645 2540)" x="645" y="2578">树图 <tspan class="wms">shutu.cn</tspan></text>
<text class="wm" transform="rotate(-30 1920 2540)" x="1920" y="2578">树图 <tspan class="wms">shutu.cn</tspan></text>
<text class="wm" transform="rotate(-30 645 3552)" x="645" y="3590">树图 <tspan class="wms">shutu.cn</tspan></text>
<text class="wm" transform="rotate(-30 1920 3552)" x="1920" y="3590">树图 <tspan class="wms">shutu.cn</tspan></text>
</g>
</svg>
